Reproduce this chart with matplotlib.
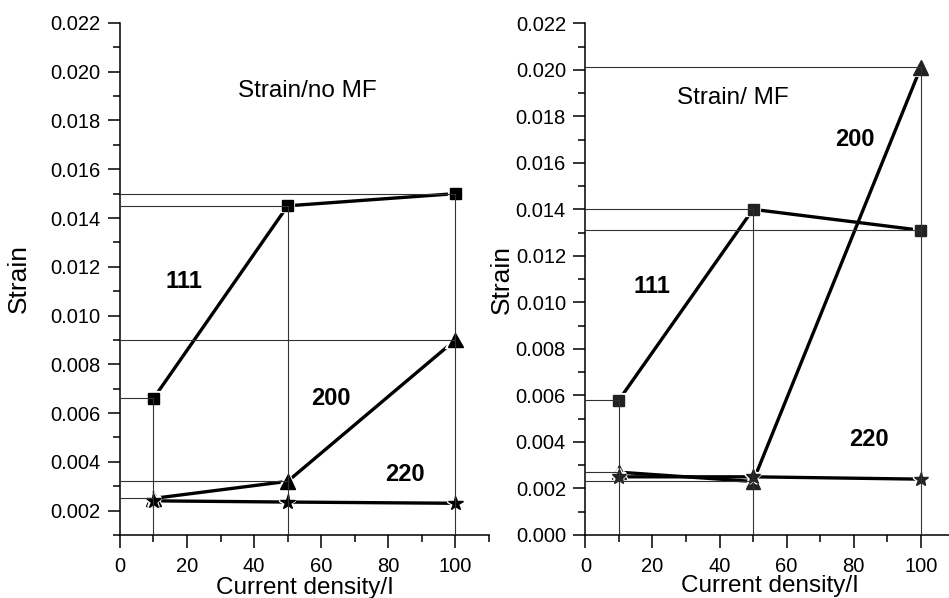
import matplotlib
matplotlib.use("Agg")
import matplotlib.pyplot as plt
import matplotlib.patheffects as pe
from matplotlib.ticker import MultipleLocator, FormatStrFormatter

plt.rcParams["font.family"] = ["Liberation Sans", "DejaVu Sans"]

# current density values (x) shared by every series
current = [10, 50, 100]

# left panel: strain without magnetic field
nomf_111 = [0.0066, 0.0145, 0.0150]
nomf_200 = [0.0025, 0.0032, 0.0090]
nomf_220 = [0.0024, 0.00235, 0.0023]

# right panel: strain with magnetic field
mf_111 = [0.0058, 0.0140, 0.0131]
mf_200 = [0.0027, 0.0023, 0.0201]
mf_220 = [0.0025, 0.0025, 0.0024]

halo = [pe.withStroke(linewidth=3, foreground="white")]


def panel(ax, s111, s200, s220, ylo, title, tpos, lab_pos, mcol):
    ax.set_xlim(0, 110)
    ax.set_ylim(ylo, 0.022)
    # guide lines from the axes to the points (drawn from the data)
    for s in (s111, s200):
        for x, y in zip(current, s):
            ax.plot([0, x], [y, y], color="#333333", lw=0.8, zorder=4)
    for i, x in enumerate(current):
        top = max(s111[i], s200[i], s220[i])
        ax.plot([x, x], [ylo, top], color="#333333", lw=0.8, zorder=4)
    for s, m, ms in ((s111, "s", 8), (s200, "^", 10.5), (s220, "*", 11)):
        ax.plot(current, s, "-", color="black", lw=2.4, zorder=2)
        ax.plot(current, s, m, color=mcol, ms=ms, ls="none", zorder=3,
                path_effects=halo)
    for txt, (x, y) in zip(["111", "200", "220"], lab_pos):
        ax.text(x, y, txt, fontsize=17, fontweight="bold", ha="center", va="center")
    ax.text(tpos[0], tpos[1], title, fontsize=17.5, ha="center", va="center")

    for side in ("top", "right"):
        ax.spines[side].set_visible(False)
    for side in ("left", "bottom"):
        ax.spines[side].set_linewidth(1.1)
    ax.xaxis.set_major_locator(MultipleLocator(20))
    ax.xaxis.set_minor_locator(MultipleLocator(10))
    ax.yaxis.set_major_locator(MultipleLocator(0.002))
    ax.yaxis.set_minor_locator(MultipleLocator(0.001))
    ax.yaxis.set_major_formatter(FormatStrFormatter("%.3f"))
    ax.tick_params(which="major", length=9, width=1.1, labelsize=14.5, pad=5)
    ax.tick_params(axis="x", which="major", pad=7)
    ax.tick_params(which="minor", length=5, width=1.1)
    ax.set_ylabel("Strain", fontsize=19)
    ax.set_xlabel("Current density/I", fontsize=17.5)


fig = plt.figure(figsize=(9.49, 5.98), dpi=100)
ax1 = fig.add_axes([0.1264, 0.1054, 0.3888, 0.8562])
ax2 = fig.add_axes([0.6168, 0.1054, 0.3888, 0.8557])

panel(ax1, nomf_111, nomf_200, nomf_220, 0.001, "Strain/no MF", (56, 0.0192),
      [(19, 0.0114), (63, 0.0066), (85, 0.0035)], "black")
panel(ax2, mf_111, mf_200, mf_220, 0.0, "Strain/ MF", (44, 0.0188),
      [(20, 0.0107), (80.5, 0.0170), (84.5, 0.0041)], "#222222")

ax1.yaxis.labelpad = 14
ax2.yaxis.labelpad = 1
ax1.xaxis.labelpad = 0.5
ax2.xaxis.labelpad = -1

fig.savefig("out.png", dpi=100)
